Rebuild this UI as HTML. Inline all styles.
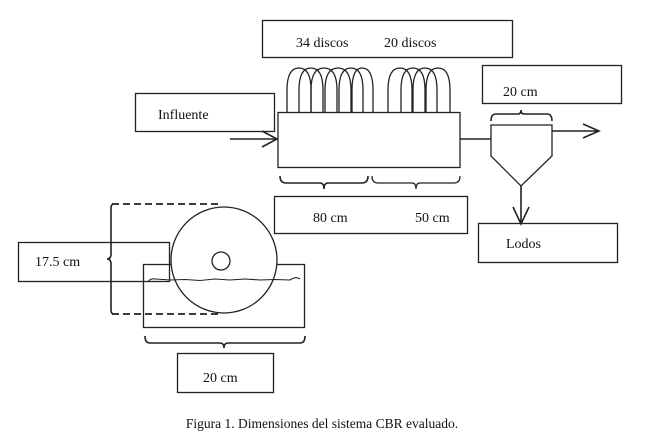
<!DOCTYPE html>
<html><head><meta charset="utf-8"><style>
html,body{margin:0;padding:0;background:#fff;}
svg{display:block;}
text{font-family:"Liberation Serif",serif;font-size:14px;fill:#111;}
</style></head><body>
<svg width="645" height="440" viewBox="0 0 645 440" xmlns="http://www.w3.org/2000/svg">
<g fill="none" stroke="#222" stroke-width="1.3">
<rect x="262.5" y="20.5" width="250" height="37"/>
<path d="M287 112 V90 Q287 68 299 68 Q311 68 311 90 V112"/>
<path d="M299 112 V90 Q299 68 311 68 Q323 68 323 90 V112"/>
<path d="M311 112 V90 Q311 68 324 68 Q337 68 337 90 V112"/>
<path d="M325 112 V90 Q325 68 338 68 Q351 68 351 90 V112"/>
<path d="M339 112 V90 Q339 68 351 68 Q363 68 363 90 V112"/>
<path d="M352 112 V90 Q352 68 362 68 Q373 68 373 90 V112"/>
<path d="M388 112 V90 Q388 68 400 68 Q412 68 412 90 V112"/>
<path d="M401 112 V90 Q401 68 413 68 Q425 68 425 90 V112"/>
<path d="M413 112 V90 Q413 68 425 68 Q437 68 437 90 V112"/>
<path d="M426 112 V90 Q426 68 438 68 Q450 68 450 90 V112"/>
<rect x="278" y="112.5" width="182" height="55" fill="#fff"/>
<rect x="135.5" y="93.5" width="139" height="38"/>
<path d="M230 139 H277 M262 131 L277 139 L262 147" stroke-width="1.6"/>
<path d="M280 176 Q280 183 286 183 H320 Q324 183 324 189 Q324 183 328 183 H362 Q368 183 368 176" stroke-width="1.6"/>
<path d="M372 176 Q372 183 378 183 H412 Q416 183 416 189 Q416 183 420 183 H454 Q460 183 460 176"/>
<rect x="274.5" y="196.5" width="193" height="37"/>
<path d="M460 139 H491" stroke-width="1.6"/>
<rect x="482.5" y="65.5" width="139" height="38"/>
<path d="M491 121 Q491 114 496 114 H518 Q521 114 521 110 Q521 114 524 114 H547 Q552 114 552 121" stroke-width="1.6"/>
<path d="M491 125 V156 L521 186 L552 156 V125 Z"/>
<path d="M552 131 H599 M583 124 L599 131 L583 138" stroke-width="1.6"/>
<path d="M521 186 V224 M513 207 L521 224 L529 207" stroke-width="1.6"/>
<rect x="478.5" y="223.5" width="139" height="39"/>
<rect x="18.5" y="242.5" width="151" height="39"/>
<rect x="143.5" y="264.5" width="161" height="63"/>
<path d="M112 204 H222 M112 314 H222" stroke-dasharray="7,4" stroke-width="1.8"/>
<path d="M114 204 Q111 204 111 208 V254 Q111 259 107 259 Q111 259 111 264 V310 Q111 314 114 314" stroke-width="1.6"/>
<circle cx="224" cy="260" r="53" fill="#fff"/>
<circle cx="221" cy="261" r="9"/>
<path d="M148 282 Q150 278 156 279 L170 280 L185 279.5 L200 280.5 L215 279 L230 280 L245 279 L260 280 L275 279.5 L290 280 Q296 276 300 279" stroke-width="1.1"/>
<path d="M145 336 Q145 343 150 343 H220 Q224 343 224 348 Q224 343 228 343 H300 Q305 343 305 336" stroke-width="1.6"/>
<rect x="177.5" y="353.5" width="96" height="39"/>
</g>
<text x="296" y="47">34 discos</text>
<text x="384" y="47">20 discos</text>
<text x="158" y="119">Influente</text>
<text x="503" y="96">20 cm</text>
<text x="313" y="222">80 cm</text>
<text x="415" y="222">50 cm</text>
<text x="506" y="248">Lodos</text>
<text x="35" y="266">17.5 cm</text>
<text x="203" y="382">20 cm</text>
<text x="322" y="428" text-anchor="middle" style="font-size:13.5px">Figura 1. Dimensiones del sistema CBR evaluado.</text>
</svg>
</body></html>
